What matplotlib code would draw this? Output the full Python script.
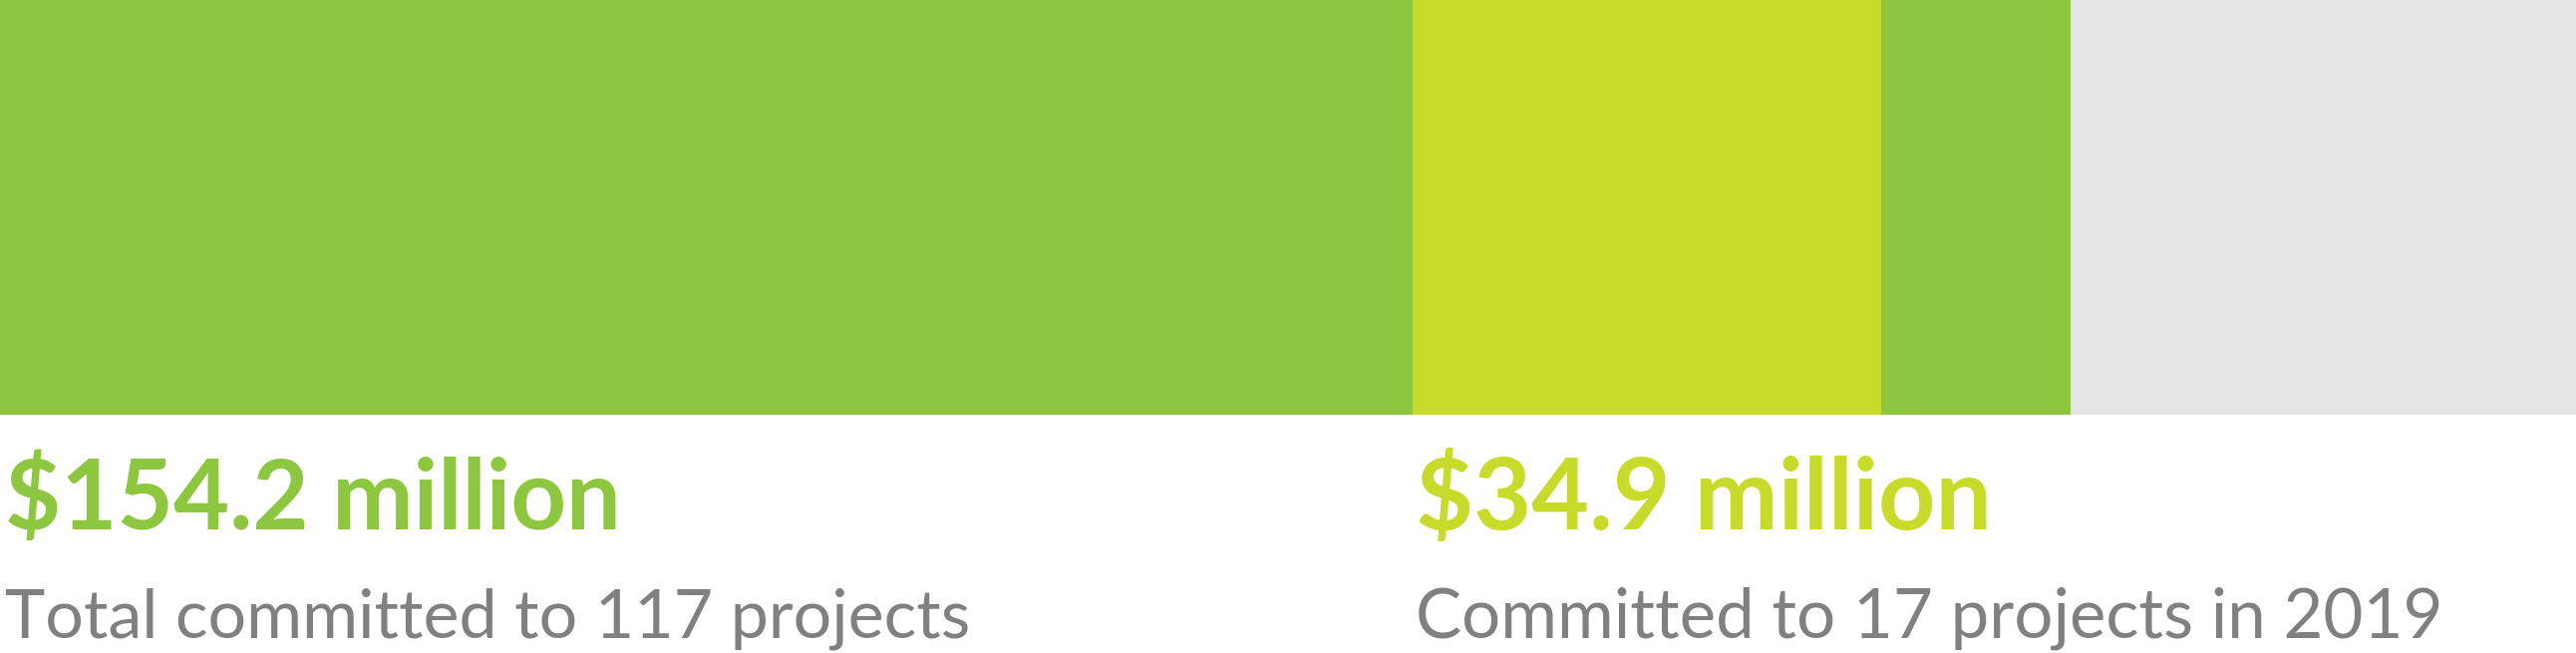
import matplotlib
matplotlib.use('Agg')
import matplotlib.pyplot as plt

# bar segments, $ million
segments = [105.2, 34.9, 14.1]
seg_colors = ['#8DC63F', '#C9DB2A', '#8DC63F']
bar_max = 191.8

total_label = '$154.2 million'
total_text = 'Total committed to 117 projects'
year_label = '$34.9 million'
year_text = 'Committed to 17 projects in 2019'

W, H = 2584, 655
fig = plt.figure(figsize=(W / 100, H / 100), dpi=100)
fig.patch.set_facecolor('white')

bar_h = 416
ax = fig.add_axes([0, 1 - bar_h / H, 1, bar_h / H])
ax.set_xlim(0, bar_max)
ax.set_ylim(-0.5, 0.5)
ax.barh(0, bar_max, height=1, color='#E5E5E5')
left = 0
for v, c in zip(segments, seg_colors):
    ax.barh(0, v, left=left, height=1, color=c)
    left += v
ax.axis('off')

# labels below the bar
x1 = 5 / W
x2 = 1420 / W
big = dict(fontsize=70, fontweight='bold', family='Lato', va='baseline')
small = dict(fontsize=52, fontweight='normal', family='Lato', color='#808080', va='baseline')

texts = [
    (fig.text(x1, 1 - 531 / H, total_label, color='#8DC63F', **big), 618),
    (fig.text(x1, 1 - 639 / H, total_text, **small), 967),
    (fig.text(x2, 1 - 531 / H, year_label, color='#C9DB2A', **big), 578),
    (fig.text(x2, 1 - 639 / H, year_text, **small), 1030),
]

# shrink/grow each label to the width it has in the picture
r = fig.canvas.get_renderer()
for t, wpx in texts:
    w = t.get_window_extent(r).width
    t.set_fontsize(t.get_fontsize() * wpx / w)

fig.savefig('out.png', dpi=100)
